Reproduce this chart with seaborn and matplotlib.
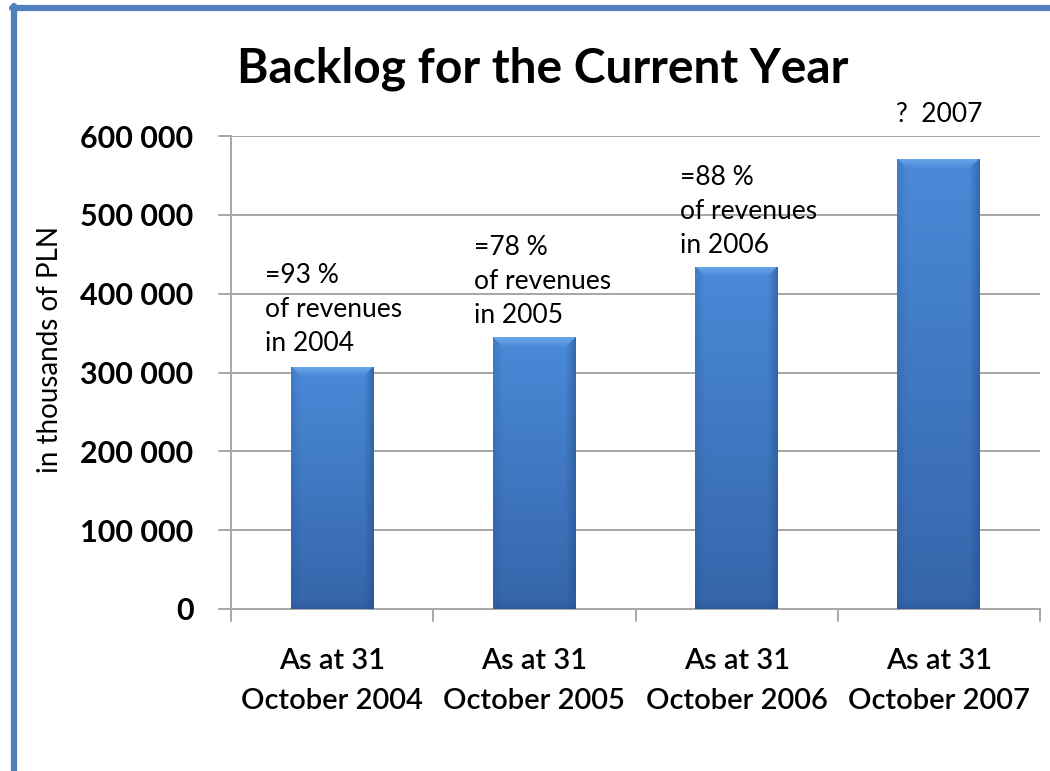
import numpy as np
import pandas as pd
import matplotlib
matplotlib.use("Agg")
import matplotlib.pyplot as plt
import seaborn as sns
from matplotlib.colors import to_rgb

# Backlog at the end of October each year (thousands of PLN)
categories = ["As at 31\nOctober 2004", "As at 31\nOctober 2005",
              "As at 31\nOctober 2006", "As at 31\nOctober 2007"]
backlog = [307000, 345000, 434000, 571000]
notes = ["=93 %\nof revenues\nin 2004", "=78 %\nof revenues\nin 2005",
         "=88 %\nof revenues\nin 2006", "?  2007"]
yticks = [0, 100000, 200000, 300000, 400000, 500000, 600000]
ytick_labels = ["0", "100 000", "200 000", "300 000", "400 000", "500 000", "600 000"]

sns.set_theme(style="white")
plt.rcParams["font.family"] = ["Lato", "DejaVu Sans"]

df = pd.DataFrame({"period": categories, "backlog": backlog})

fig = plt.figure(figsize=(10.5, 7.71), dpi=100)
ax = fig.add_axes([231 / 1050, 1 - 609 / 771, (1040 - 231) / 1050, (609 - 136) / 771])

sns.barplot(data=df, x="period", y="backlog", color="#3f7fcc", width=0.41,
            saturation=1, ax=ax, zorder=3)

ax.set_ylim(0, 600000)
ax.set_xlim(-0.5, 3.5)
ax.set_yticks(yticks)
ax.set_yticklabels(ytick_labels, fontsize=22, fontweight="bold", color="black")
ax.set_xticks([0, 1, 2, 3])
ax.set_xticklabels(categories, fontsize=21, fontweight="semibold", color="black")
for lbl in ax.get_xticklabels():
    lbl.set_linespacing(1.65)
ax.tick_params(axis="x", length=0, pad=28)
ax.tick_params(axis="y", length=0, pad=27)
ax.set_xlabel("")
ax.set_ylabel("in thousands of PLN", fontsize=20, color="black")
ax.yaxis.label.set_va("center")
ax.yaxis.set_label_coords(-0.224, 0.548)

grid_col = "#a6a6a6"
for y in yticks[1:]:
    ax.axhline(y, color=grid_col, lw=1.4, zorder=1)
for s in ["top", "right"]:
    ax.spines[s].set_visible(False)
for s in ["left", "bottom"]:
    ax.spines[s].set_color(grid_col)
    ax.spines[s].set_linewidth(1.4)
    ax.spines[s].set_zorder(2)

# outward tick marks: y ticks to the left, category separators below the axis
for y in yticks:
    ax.plot([-0.5 - 12 / 202, -0.5], [y, y], color=grid_col, lw=1.4,
            clip_on=False, zorder=2)
for xb in [-0.5, 0.5, 1.5, 2.5, 3.5]:
    ax.plot([xb, xb], [0, -12 / 473 * 600000], color=grid_col, lw=1.4,
            clip_on=False, zorder=2)

# bevelled gradient fill for each bar
fig.canvas.draw()
top_c = np.array(to_rgb("#4a8ad8"))
bot_c = np.array(to_rgb("#3565aa"))
hi_c = np.array(to_rgb("#7ab2ee"))
dark_c = np.array(to_rgb("#24508c"))
for p in ax.patches:
    x0, y0, w, h = p.get_x(), p.get_y(), p.get_width(), p.get_height()
    (px0, py0), (px1, py1) = ax.transData.transform([(x0, y0), (x0 + w, y0 + h)])
    W, H = int(round(px1 - px0)), int(round(py1 - py0))
    yy = np.linspace(0, 1, H)[:, None]
    img = top_c * (1 - yy[..., None]) + bot_c * yy[..., None]
    img = np.broadcast_to(img, (H, W, 3)).copy()
    bev = 10
    for r in range(min(bev, H)):
        t = 1 - r / bev
        lo, hi_ = r, W - r
        img[r, lo:hi_] = img[r, lo:hi_] * (1 - 0.7 * t) + hi_c * 0.7 * t
    for c in range(min(bev, W)):
        t = 1 - c / bev
        img[c:, W - 1 - c] = img[c:, W - 1 - c] * (1 - 0.55 * t) + dark_c * 0.55 * t
        img[c:, c] = img[c:, c] * (1 - 0.25 * t) + dark_c * 0.25 * t
    for r in range(min(bev, H)):
        t = 1 - r / bev
        img[H - 1 - r, :] = img[H - 1 - r, :] * (1 - 0.35 * t) + dark_c * 0.35 * t
    im = ax.imshow(img, extent=[x0, x0 + w, y0, y0 + h], aspect="auto",
                   zorder=3.5, interpolation="bilinear")
    im.set_clip_path(p)
    p.set_facecolor("none")
    p.set_edgecolor("none")
ax.set_xlim(-0.5, 3.5)
ax.set_ylim(0, 600000)

# percentage notes above the bars
x_shift = [-0.33, -0.30, -0.28, -0.21]
lift = [8, 6.5, 6.5, 23]
for i, (val, txt) in enumerate(zip(backlog, notes)):
    ax.annotate(txt, xy=(i + x_shift[i], val), xytext=(0, lift[i]),
                textcoords="offset points", ha="left", va="bottom",
                fontsize=19, color="black", linespacing=1.45, zorder=5)

fig.suptitle("Backlog for the Current Year", x=543 / 1050, y=1 - 69 / 771,
             va="center", fontsize=34.5, fontweight="bold", color="black")

# frame lines along the left and top edges
fig.add_artist(plt.Line2D([14 / 1050, 14 / 1050], [0, 1 - 6 / 771],
                          transform=fig.transFigure, color="#4f81bd", lw=4.5))
fig.add_artist(plt.Line2D([12 / 1050, 1], [1 - 8 / 771, 1 - 8 / 771],
                          transform=fig.transFigure, color="#4f81bd", lw=4.5))

fig.savefig("out.png", dpi=100, facecolor="white")
